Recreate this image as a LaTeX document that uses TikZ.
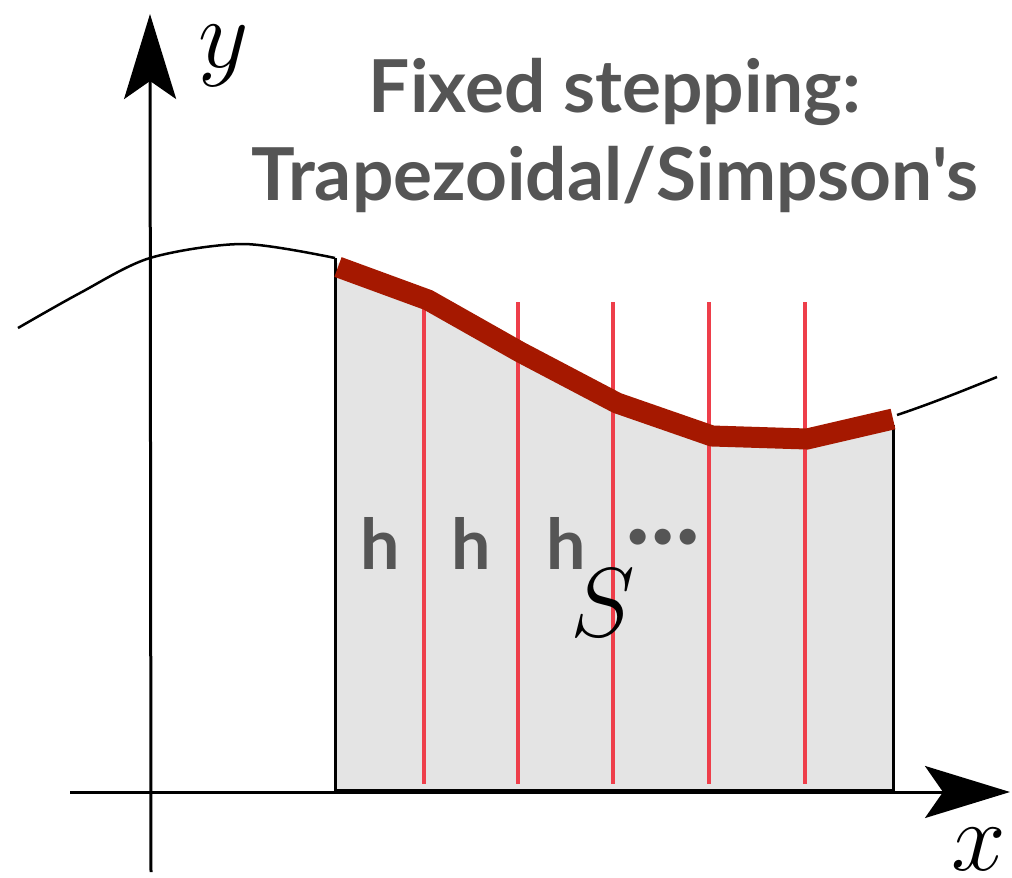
\documentclass[tikz,border=0pt]{standalone}
\usepackage{fix-cm}
\usepackage{fontspec}
\newfontfamily\titlefont{Lato}
\usetikzlibrary{arrows.meta}
\definecolor{textgray}{HTML}{555555}
\definecolor{trapred}{HTML}{A51800}
\definecolor{steplinered}{HTML}{EE3E4A}
\definecolor{areagray}{HTML}{E4E4E4}
\tikzset{
  axisline/.style={line width=3pt,-{Stealth[length=85pt,width=52pt,inset=18pt]}},
  stepline/.style={steplinered, line width=4pt},
  graylabel/.style={textgray, font=\titlefont\bfseries\fontsize{73}{73}\selectfont, anchor=base, inner sep=0pt},
  steplabel/.style={graylabel, font=\titlefont\bfseries\fontsize{70}{70}\selectfont},
  axislabel/.style={font=\fontsize{98}{98}\selectfont, anchor=base, inner sep=0pt}
}
\newcommand{\stepdot}{\makebox[25pt]{\textperiodcentered}}
\begin{document}
\begin{tikzpicture}[x=1pt,y=-1pt]
\useasboundingbox (0,0) rectangle (1012,878);
% shaded area under the curve
\fill[areagray] (335,262) -- (428,300) -- (520,352) -- (617,403) -- (712,436)
  -- (807,439) -- (893,419) -- (893,790) -- (335,790) -- cycle;
\draw[line width=3pt] (335,258) -- (335,790) -- (893,790) -- (893,425);
% step lines
\foreach \xs in {424,518,613,709,805}
  \draw[stepline] (\xs,302) -- (\xs,784);
% the function
\draw[line width=2.5pt] plot[smooth] coordinates {(18,328) (80,293) (150,258) (243,244) (335,258)};
\draw[line width=2.5pt] (897,415) .. controls (930,404) and (965,390) .. (997,377);
% trapezoid top
\draw[trapred, line width=21pt] (338,267) -- (428,300) -- (520,352) -- (617,403)
  -- (712,436) -- (807,439) -- (893,419);
% axes
\draw[axisline] (70,792) -- (1010,792);
\draw[axisline] (151,872) -- (150,14);
\node[axislabel] (ylabel) at (224,67) {$y$};
\node[axislabel] (xlabel) at (979,870) {$x$};
\node[axislabel] (area) at (603,636) {$S$};
% step labels
\node[steplabel] (h1) at (380,569) {h};
\node[steplabel] (h2) at (471,569) {h};
\node[steplabel] (h3) at (566,569) {h};
\node[graylabel, font=\titlefont\bfseries\fontsize{85}{85}\selectfont] (dots) at (663,562) {\stepdot\stepdot\stepdot};
% title
\node[graylabel] (title1) at (615,112) {Fixed stepping:};
\node[graylabel] (title2) at (615,200) {Trapezoidal/Simpson's};
\end{tikzpicture}
\end{document}
